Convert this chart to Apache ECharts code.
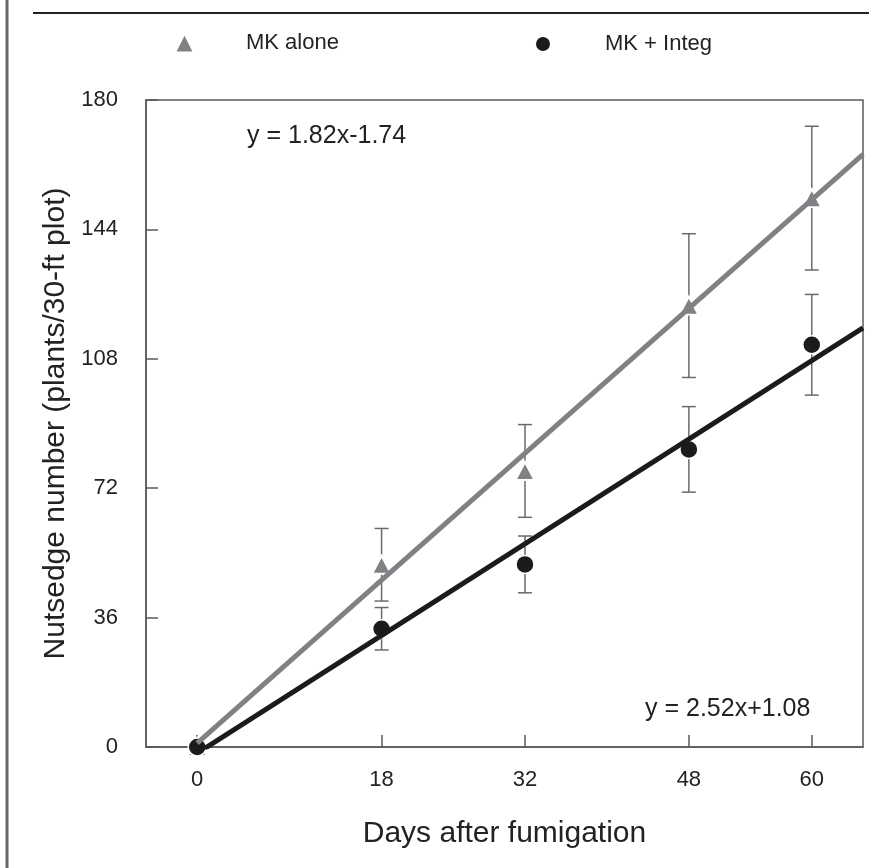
<!DOCTYPE html>
<html>
<head>
<meta charset="utf-8">
<script src="https://cdn.jsdelivr.net/npm/echarts@6/dist/echarts.min.js"></script>
<style>
html,body{margin:0;padding:0;background:#fff;}
#chart{width:890px;height:868px;}
</style>
</head>
<body>
<div id="chart"></div>
<script>
// ---- data ----
var days = [0, 18, 32, 48, 60];
var mkAlone = [0, 50.7, 76.8, 122.8, 152.7];
var mkAloneErr = [0, 10.1, 12.9, 20.0, 20.0];
var mkInteg = [0, 32.9, 50.8, 82.8, 111.9];
var mkIntegErr = [0, 5.9, 7.9, 11.9, 14.0];
var trendDays = [0, 65];
var trendAlone = [1.08, 164.9];
var trendInteg = [-1.74, 116.6];
var yTicks = [0, 36, 72, 108, 144, 180];
var xTicks = [0, 18, 32, 48, 60];
var seriesNames = ['MK alone', 'MK + Integ'];
var eqAlone = 'y = 1.82x-1.74';
var eqInteg = 'y = 2.52x+1.08';
var xTitle = 'Days after fumigation';
var yTitle = 'Nutsedge number (plants/30-ft plot)';

var FONT = '"Liberation Sans", Arial, Helvetica, sans-serif';
var GRAY = '#808184';
var BLACK = '#1b1b1b';
var AXIS = '#5a5a5a';

function pts(xs, ys) { return xs.map(function (x, i) { return [x, ys[i]]; }); }
function errs(xs, ys, es) { return xs.map(function (x, i) { return [x, ys[i] - es[i], ys[i] + es[i]]; }); }

function errRender(params, api) {
  var x = api.value(0);
  var lo = api.coord([x, api.value(1)]);
  var hi = api.coord([x, api.value(2)]);
  if (Math.abs(hi[1] - lo[1]) < 0.5) return null;
  var w = 7;
  var st = { stroke: '#6a6a6a', lineWidth: 1.5 };
  return {
    type: 'group',
    children: [
      { type: 'line', shape: { x1: lo[0], y1: lo[1], x2: hi[0], y2: hi[1] }, style: st },
      { type: 'line', shape: { x1: lo[0] - w, y1: lo[1], x2: lo[0] + w, y2: lo[1] }, style: st },
      { type: 'line', shape: { x1: hi[0] - w, y1: hi[1], x2: hi[0] + w, y2: hi[1] }, style: st }
    ]
  };
}

var chart = echarts.init(document.getElementById('chart'), null, { renderer: 'canvas' });
var option = {
  backgroundColor: '#fff',
  animation: false,
  textStyle: { fontFamily: FONT },
  grid: { left: 146, right: 27, top: 100, bottom: 121, show: true, borderColor: AXIS, borderWidth: 1.5, backgroundColor: 'transparent' },
  legend: [
    { data: [seriesNames[0]], left: 169, top: 27, itemWidth: 19, itemHeight: 19,
      textStyle: { fontSize: 22, color: '#222', fontFamily: FONT, padding: [0, 0, 0, 47] } },
    { data: [seriesNames[1]], left: 529, top: 28, itemWidth: 16, itemHeight: 16,
      textStyle: { fontSize: 22, color: '#222', fontFamily: FONT, padding: [0, 0, 0, 49] } }
  ],
  xAxis: {
    type: 'value', min: -5, max: 65,
    name: xTitle, nameLocation: 'middle', nameGap: 72,
    nameTextStyle: { fontSize: 30, color: '#222', fontFamily: FONT },
    axisLine: { show: true, onZero: false, lineStyle: { color: AXIS, width: 1.5 } },
    axisTick: { show: true, inside: true, length: 12, customValues: xTicks, lineStyle: { color: AXIS, width: 1.5 } },
    axisLabel: { customValues: xTicks, fontSize: 22, color: '#222', margin: 22, fontFamily: FONT },
    splitLine: { show: false }
  },
  yAxis: {
    type: 'value', min: 0, max: 180, interval: 36,
    name: yTitle, nameLocation: 'middle', nameGap: 72, nameRotate: 90,
    nameTextStyle: { fontSize: 30, color: '#222', fontFamily: FONT },
    axisLine: { show: true, onZero: false, lineStyle: { color: AXIS, width: 1.5 } },
    axisTick: { show: true, inside: true, length: 12, customValues: yTicks, lineStyle: { color: AXIS, width: 1.5 } },
    axisLabel: { customValues: yTicks, fontSize: 22, color: '#222', margin: 28, fontFamily: FONT },
    splitLine: { show: false }
  },
  series: [
    { type: 'custom', name: 'errAlone', renderItem: errRender, data: errs(days, mkAlone, mkAloneErr),
      encode: { x: 0, y: [1, 2] }, z: 1, silent: true },
    { type: 'custom', name: 'errInteg', renderItem: errRender, data: errs(days, mkInteg, mkIntegErr),
      encode: { x: 0, y: [1, 2] }, z: 1, silent: true },
    { type: 'scatter', name: seriesNames[0], data: pts(days, mkAlone), symbol: 'triangle', symbolSize: [19, 18],
      itemStyle: { color: GRAY, borderColor: '#fff', borderWidth: 2, opacity: 1 }, z: 2 },
    { type: 'scatter', name: seriesNames[1], data: pts(days, mkInteg), symbol: 'circle', symbolSize: 18,
      itemStyle: { color: BLACK, borderColor: '#fff', borderWidth: 1.5, opacity: 1 }, z: 3 },
    { type: 'line', name: 'trendAlone', data: pts(trendDays, trendAlone), showSymbol: false, symbol: 'none',
      lineStyle: { color: GRAY, width: 5 }, z: 4, silent: true, clip: true },
    { type: 'line', name: 'trendInteg', data: pts(trendDays, trendInteg), showSymbol: false, symbol: 'none',
      lineStyle: { color: BLACK, width: 5 }, z: 5, silent: true, clip: true }
  ],
  graphic: [
    { type: 'line', shape: { x1: 7, y1: 0, x2: 7, y2: 868 }, style: { stroke: '#666', lineWidth: 3 } },
    { type: 'line', shape: { x1: 33, y1: 13, x2: 869, y2: 13 }, style: { stroke: '#222', lineWidth: 2 } },
    { type: 'text', left: 247, top: 124, style: { text: eqAlone, font: '25px ' + FONT, fill: '#222' } },
    { type: 'text', left: 645, top: 697, style: { text: eqInteg, font: '25px ' + FONT, fill: '#222' } }
  ]
};
chart.setOption(option);
</script>
</body>
</html>
